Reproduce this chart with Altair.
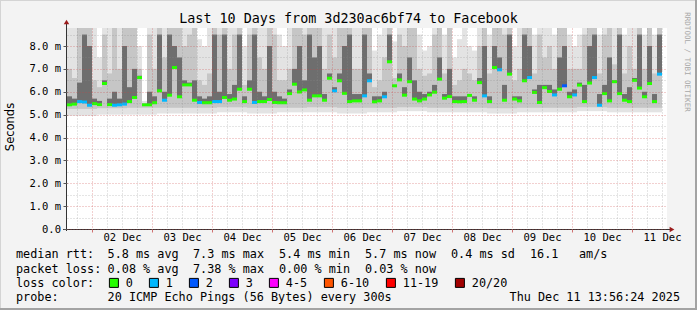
import altair as alt
import pandas as pd

# ------------------------------------------------------------------ data
# one sample every 2 hours, first sample at 14:00 on 01 Dec (hours counted from 01 Dec 00:00)
first_sample_hour = 14
sample_hours = 2

median_ms = [5.43, 5.46, 5.57, 5.55, 5.41, 5.48, 5.44, 6.36, 5.44, 5.41,
             5.43, 5.46, 5.57, 5.75, 6.62, 5.43, 5.43, 5.52, 6.04, 5.63,
             5.85, 7.06, 5.78, 6.30, 6.30, 5.63, 5.53, 5.52, 5.52, 5.57,
             5.57, 5.75, 5.63, 5.68, 6.11, 5.57, 6.11, 5.53, 5.57, 5.57,
             5.66, 5.53, 5.52, 5.52, 5.92, 6.33, 5.99, 6.08, 5.63, 5.82,
             5.82, 5.63, 6.59, 6.04, 6.48, 5.93, 5.57, 5.60, 5.60, 5.82,
             6.48, 5.56, 5.60, 5.78, 7.31, 6.26, 6.52, 5.85, 6.44, 5.68,
             5.60, 5.68, 5.86, 5.98, 6.55, 5.72, 5.79, 5.57, 5.56, 5.57,
             5.84, 5.63, 6.40, 5.82, 5.57, 7.06, 6.96, 5.63, 6.77, 5.68,
             5.60, 6.48, 6.62, 5.97, 5.53, 6.18, 6.01, 5.86, 6.11, 6.26,
             5.78, 5.86, 6.29, 5.57, 6.38, 6.62, 5.41, 5.92, 5.60, 6.44,
             5.92, 5.63, 5.57, 6.50, 6.16, 5.78, 6.36, 5.57, 6.77]

# lost pings per sample (index into loss_labels)
loss_index = [0, 0, 1, 1, 1, 0, 0, 0, 0, 1,
              1, 1, 0, 0, 0, 0, 0, 0, 0, 1,
              0, 0, 0, 0, 0, 0, 1, 0, 0, 1,
              1, 0, 0, 0, 0, 0, 0, 1, 0, 0,
              0, 0, 0, 0, 0, 0, 0, 0, 0, 0,
              0, 0, 0, 1, 0, 0, 0, 0, 0, 1,
              1, 0, 0, 1, 0, 0, 0, 0, 0, 0,
              0, 0, 0, 0, 0, 0, 0, 0, 0, 0,
              0, 0, 0, 1, 0, 0, 1, 0, 0, 0,
              0, 0, 1, 0, 0, 0, 0, 1, 0, 2,
              0, 1, 0, 0, 0, 1, 1, 0, 0, 0,
              0, 0, 0, 0, 0, 0, 0, 0, 1]

# smoke: upper edge of the light / mid / dark grey bands (ms)
smoke_top_light = [9, 9, 9, 9, 9, 9, 7.5, 9, 9, 9,
                   9, 9, 9, 9, 8.0, 5.6, 9, 9, 9, 9,
                   9, 9, 9, 9, 9, 9, 8.3, 8.0, 9, 9,
                   9, 9, 9, 9, 9, 8.0, 9, 9, 9, 9,
                   9, 9, 8.5, 8.0, 9, 9, 9, 9, 9, 9,
                   9, 9, 9, 9, 9, 9, 9, 9, 9, 9,
                   9, 7.8, 8.5, 9, 9, 8.2, 9, 9, 9, 9,
                   8.5, 7.8, 8.0, 9, 9, 8.5, 9, 7.5, 8.3, 9,
                   8.0, 7.8, 9, 9, 8.5, 9, 9, 9, 9, 8.0,
                   9, 9, 9, 8.5, 9, 9, 9, 8.5, 9, 9,
                   8.5, 8.0, 8.5, 9, 9, 9, 8.5, 9, 9, 9,
                   9, 8.5, 9, 9, 9, 8.5, 9, 8.5, 9]
smoke_top_mid = [7.0, 6.6, 9, 9, 9, 6.5, 6.2, 8.5, 6.8, 8.8,
                 7.0, 9, 9, 9, 7.0, 5.5, 8.5, 7.0, 9, 7.5,
                 9, 9, 9, 8.0, 8.5, 9, 6.5, 6.3, 6.8, 9,
                 8.5, 9, 7.0, 8.5, 9, 6.3, 8.5, 9, 7.5, 7.0,
                 9, 8.5, 6.5, 6.5, 7.0, 9, 9, 8.5, 9, 9,
                 9, 7.0, 8.5, 7.5, 9, 9, 9, 7.0, 7.0, 9,
                 9, 6.2, 6.5, 7.5, 9, 6.6, 8.5, 8.0, 9, 9,
                 7.0, 6.7, 6.8, 8.5, 9, 6.8, 9, 6.3, 6.5, 7.0,
                 6.8, 6.5, 8.0, 9, 6.8, 9, 9, 8.5, 9, 6.5,
                 7.0, 9, 9, 6.8, 8.5, 7.5, 8.0, 7.0, 9, 9,
                 7.0, 7.0, 7.0, 8.5, 9, 9, 6.8, 8.5, 9, 7.2,
                 9, 6.8, 8.0, 7.0, 9, 7.0, 9, 6.8, 9]
smoke_top_dark = [5.8, 5.7, 6.4, 8.5, 8.0, 5.7, 5.6, 6.5, 5.7, 6.0,
                  5.7, 8.0, 6.2, 7.0, 6.7, 5.45, 6.0, 5.8, 8.5, 6.0,
                  8.5, 8.0, 7.5, 6.5, 6.4, 6.5, 5.8, 5.7, 5.8, 8.5,
                  6.0, 8.5, 5.9, 6.3, 8.5, 5.8, 6.5, 8.5, 6.0, 5.8,
                  8.0, 6.0, 5.8, 5.7, 6.1, 7.0, 8.0, 6.5, 8.5, 7.5,
                  8.0, 5.9, 6.8, 6.2, 6.8, 8.0, 8.5, 5.9, 5.9, 8.5,
                  6.8, 5.8, 5.8, 6.0, 8.5, 6.3, 6.8, 6.2, 7.5, 6.5,
                  6.0, 5.9, 6.0, 6.3, 7.5, 5.9, 7.0, 5.8, 5.8, 5.8,
                  5.9, 5.8, 6.6, 8.0, 5.8, 8.0, 7.5, 6.3, 8.5, 5.8,
                  5.8, 8.5, 8.0, 6.1, 6.3, 6.3, 6.3, 6.1, 7.5, 8.0,
                  6.0, 6.1, 6.4, 6.3, 8.0, 8.5, 5.9, 6.3, 7.5, 6.5,
                  8.5, 5.9, 6.2, 6.6, 8.5, 6.0, 8.0, 5.9, 8.5]

# smoke: lower edge of the light and mid bands, one value per 12 hours
smoke_floor_light = [4.95, 5.0, 5.0, 5.05, 5.05, 5.1, 5.05, 5.1, 5.1, 5.05,
                     5.1, 5.15, 5.1, 5.1, 5.05, 5.1, 5.1, 5.15, 5.1, 5.1]
smoke_floor_mid = [5.25, 5.28, 5.3, 5.3, 5.3, 5.32, 5.3, 5.3, 5.32, 5.3,
                   5.3, 5.32, 5.3, 5.3, 5.28, 5.3, 5.3, 5.32, 5.3, 5.3]

loss_labels = ["0", "1", "2", "3", "4-5", "6-10", "11-19", "20/20"]
loss_colors = ["#26ff00", "#00b8ff", "#0059ff", "#7e00ff", "#ff00ff", "#ff5500", "#ff0000", "#a10000"]

x_grid_hours = [18, 24, 30, 36, 42, 48, 54, 60, 66, 72, 78, 84, 90, 96, 102, 108, 114, 120,
                126, 132, 138, 144, 150, 156, 162, 168, 174, 180, 186, 192, 198, 204, 210,
                216, 222, 228, 234, 240, 246, 252]
day_label_hours = [36, 60, 84, 108, 132, 156, 180, 204, 228, 252]
day_labels = ["02 Dec", "03 Dec", "04 Dec", "05 Dec", "06 Dec", "07 Dec", "08 Dec",
              "09 Dec", "10 Dec", "11 Dec"]
y_grid_values = [0, 0.5, 1, 1.5, 2, 2.5, 3, 3.5, 4, 4.5, 5, 5.5, 6, 6.5, 7, 7.5, 8, 8.5]
y_label_values = [0, 1, 2, 3, 4, 5, 6, 7, 8]
y_labels = ["0.0\u00a0\u00a0", "1.0 m", "2.0 m", "3.0 m", "4.0 m", "5.0 m", "6.0 m", "7.0 m", "8.0 m"]

title_text = "Last 10 Days from 3d230ac6bf74 to Facebook"
y_title = "Seconds"
watermark = "RRDTOOL / TOBI OETIKER"
rtt_line = ["median rtt:", "5.8 ms avg", "7.3 ms max", "5.4 ms min", "5.7 ms now",
            "0.4 ms sd", "16.1", "am/s"]
loss_line = ["packet loss:", "0.08 % avg", "7.38 % max", "0.00 % min", "0.03 % now"]
color_line = "loss color:"
probe_line = ["probe:", "20 ICMP Echo Pings (56 Bytes) every 300s"]
stamp = "Thu Dec 11 13:56:24 2025"

# ------------------------------------------------------------------ table
rows = []
for i, m in enumerate(median_ms):
    t0 = first_sample_hour + sample_hours * i
    rows.append({
        "t0": t0, "t1": t0 + sample_hours, "tc": t0 + sample_hours / 2,
        "med": m, "loss": loss_labels[loss_index[i]],
        "s1": smoke_top_light[i], "s2": smoke_top_mid[i], "s3": smoke_top_dark[i],
        "f1": smoke_floor_light[i // 6], "f2": smoke_floor_mid[i // 6],
    })
df = pd.DataFrame(rows)

W, H = 600, 201
MONO = "DejaVu Sans Mono"


def lookup_expr(keys, labels):
    expr = "''"
    for k, l in reversed(list(zip(keys, labels))):
        expr = f"datum.value == {k} ? '{l}' : ({expr})"
    return expr


x_axis = alt.Axis(
    values=x_grid_hours, labelExpr=lookup_expr(day_label_hours, day_labels),
    title=None, domain=False, grid=True, gridDash=[1, 2], gridWidth=1,
    gridColor={"condition": {"test": "datum.value % 24 === 0", "value": "rgba(205,70,70,0.5)"},
               "value": "rgba(140,140,140,0.45)"},
    ticks=True, tickSize=3,
    tickColor={"condition": {"test": "datum.value % 24 === 0", "value": "#d07070"},
               "value": "transparent"},
    labelFont=MONO, labelFontSize=10.5, labelColor="#000", labelPadding=5,
    labelBaseline="middle", labelOverlap=False, labelFlush=False, zindex=1,
)
y_axis = alt.Axis(
    values=y_grid_values, labelExpr=lookup_expr(y_label_values, y_labels),
    title=None, domain=False, grid=True, gridDash=[1, 2], gridWidth=1,
    gridColor={"condition": {"test": "datum.value % 1 === 0", "value": "rgba(205,70,70,0.5)"},
               "value": "rgba(140,140,140,0.45)"},
    ticks=True, tickSize=4,
    tickColor={"condition": {"test": "datum.value % 1 === 0", "value": "#555"},
               "value": "transparent"},
    labelFont=MONO, labelFontSize=10.5, labelColor="#000", labelPadding=2.5,
    labelOverlap=False, labelFlush=False, zindex=1,
)
x_scale = alt.Scale(domain=[14, 254], nice=False, zero=False)
y_scale = alt.Scale(domain=[0, 8.787], nice=False, zero=False, clamp=True)

base = alt.Chart(df)


def band(lo, hi, color):
    return base.mark_rect(color=color, clip=True).encode(
        x=alt.X("t0:Q", scale=x_scale, axis=x_axis),
        x2="t1:Q",
        y=alt.Y(f"{lo}:Q", scale=y_scale, axis=y_axis),
        y2=f"{hi}:Q",
    )


light = band("f1", "s1", "#e3e3e3")
mid = band("f2", "s2", "#c6c6c6")
dark = band("med", "s3", "#6e6e6e")

median = base.mark_tick(orient="horizontal", size=5, thickness=3, opacity=1, clip=True).encode(
    x=alt.X("tc:Q", scale=x_scale, axis=x_axis),
    y=alt.Y("med:Q", scale=y_scale, axis=y_axis),
    color=alt.Color("loss:N", scale=alt.Scale(domain=loss_labels, range=loss_colors),
                    legend=alt.Legend(
                        orient="none", legendX=41, legendY=249, direction="horizontal",
                        columns=8, gridAlign="none", title=None, padding=0,
                        symbolType="square", symbolSize=81, symbolStrokeColor="black",
                        symbolStrokeWidth=1, symbolOpacity=1,
                        labelFont=MONO, labelFontSize=11.8, labelColor="#000",
                        labelOffset=6, columnPadding=14)),
)

one = pd.DataFrame({"k": [0]})


def deco_rule(x, x2, y, y2, color, w=1):
    return alt.Chart(one).mark_rule(color=color, strokeWidth=w).encode(
        x=alt.value(x), x2=alt.value(x2), y=alt.value(y), y2=alt.value(y2))


def text(s, x, y, size=11.8, align="left", font=MONO, color="#000", angle=0):
    return alt.Chart(pd.DataFrame({"s": [s]})).mark_text(
        align=align, baseline="middle", fontSize=size, font=font, color=color, angle=angle
    ).encode(x=alt.value(x), y=alt.value(y), text="s:N")


axis_y_line = deco_rule(-0.5, -0.5, -5, 203, "#333333")
axis_x_line = deco_rule(-4, 604, 201.5, 201.5, "#333333")
arrow_up = alt.Chart(one).mark_point(shape="triangle-up", filled=True, size=30, color="#9b1c1c", opacity=1).encode(
    x=alt.value(-0.5), y=alt.value(-6))
arrow_right = alt.Chart(one).mark_point(shape="triangle-right", filled=True, size=30, color="#9b1c1c", opacity=1).encode(
    x=alt.value(605), y=alt.value(201.5))

frame = [
    deco_rule(-66.5, -66.5, -28, 282, "#d4d4d4"),
    deco_rule(-67, 630, -27.5, -27.5, "#d4d4d4"),
    deco_rule(629, 629, -28, 282, "#a3a3a3", 2),
    deco_rule(-67, 630, 281, 281, "#a3a3a3", 2),
]

rtt_x = [16, 107.6, 193, 279, 365, 451, 530, 579]
loss_x = [16, 107.6, 193, 279, 365]
texts = [text(title_text, 281.5, -9, size=13.4, align="center"),
         text(y_title, -56.5, 99, size=11.5, align="center", font="DejaVu Sans", angle=270),
         text(watermark, 620, 34, size=7.5, align="center", color="#a8a8a8", angle=90),
         text(color_line, 16 - 67, 255),
         text(probe_line[0], 16 - 67, 269),
         text(probe_line[1], 107.6 - 67, 269),
         text(stamp, 680 - 67, 269, align="right")]
texts += [text(s, x - 67, 226) for s, x in zip(rtt_line, rtt_x)]
texts += [text(s, x - 67, 240.5) for s, x in zip(loss_line, loss_x)]

chart = alt.layer(
    light, mid, dark, median, axis_y_line, axis_x_line, arrow_up, arrow_right, *frame, *texts
).properties(
    width=W, height=H,
    padding={"left": 67, "top": 28, "right": 30, "bottom": 81},
    autosize=alt.AutoSizeParams(type="none"),
    background="#f3f3f3",
).configure_view(stroke=None, fill="white")

chart.save("out.html", embed_options={"renderer": "svg", "actions": False})
